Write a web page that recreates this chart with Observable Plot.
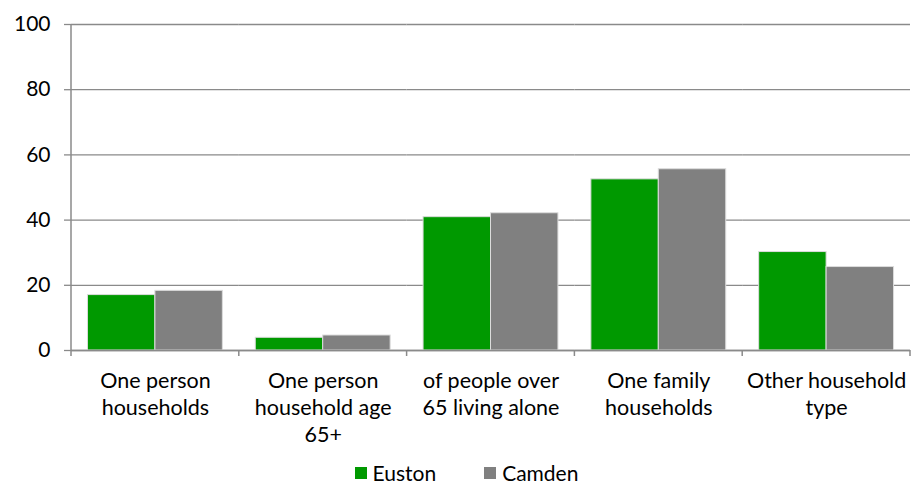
<!DOCTYPE html>
<html>
<head>
<meta charset="utf-8">
<script src="https://cdn.jsdelivr.net/npm/d3@7"></script>
<script src="https://cdn.jsdelivr.net/npm/@observablehq/plot@0.6"></script>
<style>
  html, body { margin: 0; padding: 0; background: #fff; }
  body { width: 911px; height: 486px; overflow: hidden; font-family: Lato, "Open Sans", sans-serif; }
  #chart svg { display: block; }
  #legend { display: flex; justify-content: center; align-items: center; height: 24px; margin-top: 5px; line-height: 24px; font-size: 21px; color: #000; padding-left: 22px; }
  #legend .item { display: flex; align-items: center; margin: 0 24px; }
  #legend .sw { width: 12px; height: 12px; margin-right: 6px; }
</style>
</head>
<body>
<div id="chart"></div>
<div id="legend"></div>
<script>
const categories = ["One person households", "One person household age 65+", "of people over 65 living alone", "One family households", "Other household type"];
const tickLabels = ["One person\nhouseholds", "One person\nhousehold age\n65+", "of people over\n65 living alone", "One family\nhouseholds", "Other household\ntype"];
const series = ["Euston", "Camden"];
const euston = [17.0, 3.9, 40.9, 52.5, 30.2];
const camden = [18.3, 4.6, 42.1, 55.6, 25.6];
const colors = ["#009900", "#808080"];
const yTicks = [0, 20, 40, 60, 80, 100];

const data = [];
categories.forEach((c, i) => {
  data.push({category: c, series: "Euston", value: euston[i]});
  data.push({category: c, series: "Camden", value: camden[i]});
});
const labelOf = new Map(categories.map((c, i) => [c, tickLabels[i]]));

const chart = Plot.plot({
  width: 911,
  height: 456,
  marginTop: 24,
  marginBottom: 106,
  marginLeft: 71,
  marginRight: 1,
  style: {fontFamily: "Lato, 'Open Sans', sans-serif", fontSize: "21px", color: "#000", background: "#fff"},
  fx: {domain: categories, paddingInner: 0, paddingOuter: 0, round: false, label: null},
  x: {domain: series, paddingInner: 0, paddingOuter: 0.244, round: false, axis: null},
  y: {domain: [0, 100], label: null},
  color: {domain: series, range: colors},
  marks: [
    Plot.gridY(yTicks, {stroke: "#8a8a8a", strokeOpacity: 1, strokeWidth: 1.3}),
    Plot.barY(data, {fx: "category", x: "series", y: "value", fill: "series", stroke: "#dcdcdc", strokeWidth: 1}),
    Plot.axisY(yTicks, {tickSize: 7, tickPadding: 14, stroke: "#8a8a8a", strokeWidth: 1.3, fontSize: 21, label: null}),
    Plot.axisFx({anchor: "bottom", tickSize: 0, tickPadding: 18, tickFormat: d => labelOf.get(d), fontSize: 21.5, lineHeight: 1.26, label: null}),
    Plot.ruleY([0], {stroke: "#8a8a8a", strokeWidth: 1.5})
  ]
});
document.getElementById("chart").appendChild(chart);

// left axis line and x-axis category boundary ticks, from the library's scales
const fx = chart.scale("fx");
const yS = chart.scale("y");
const svg = d3.select(chart);
const y0 = yS.apply(0), y100 = yS.apply(100);
const left = fx.apply(categories[0]);
const bounds = categories.map(c => fx.apply(c)).concat([fx.apply(categories[categories.length - 1]) + fx.bandwidth]);
const g = svg.append("g").attr("stroke", "#8a8a8a").attr("stroke-width", 1.5);
g.append("line").attr("x1", left).attr("x2", left).attr("y1", y100).attr("y2", y0);
g.selectAll("line.t").data(bounds).join("line").attr("class", "t")
  .attr("x1", d => d).attr("x2", d => d)
  .attr("y1", y0).attr("y2", y0 + 6);

// legend
const legend = d3.select("#legend");
series.forEach((s, i) => {
  const item = legend.append("div").attr("class", "item");
  item.append("div").attr("class", "sw").style("background", colors[i]);
  item.append("span").text(s);
});
</script>
</body>
</html>
